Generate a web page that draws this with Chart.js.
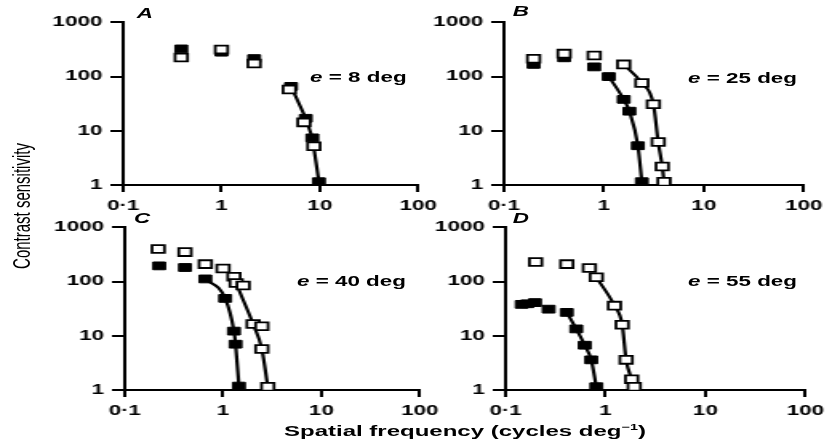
<!DOCTYPE html>
<html>
<head>
<meta charset="utf-8">
<script src="https://cdn.jsdelivr.net/npm/chart.js@4"></script>
<style>
  html, body { margin: 0; background: #fff; }
  /* the reference is stretched sideways, so the whole page is drawn narrow and scaled */
  #page { position: absolute; left: 0; top: 0; width: 518px; height: 448px;
          transform: scaleX(1.6); transform-origin: 0 0;
          font-family: "Liberation Sans", Arial, sans-serif; color: #000; }
  .panel { position: absolute; }
  .txt { position: absolute; white-space: nowrap; font-weight: bold; }
</style>
</head>
<body>
<div id="page">
  <div class="panel" id="pA"><canvas id="cA"></canvas></div>
  <div class="panel" id="pB"><canvas id="cB"></canvas></div>
  <div class="panel" id="pC"><canvas id="cC"></canvas></div>
  <div class="panel" id="pD"><canvas id="cD"></canvas></div>

  <div class="txt" style="left:90.6px;top:13px;transform:translate(-50%,-50%);font-style:italic;font-size:14px">A</div>
  <div class="txt" style="left:325.6px;top:11px;transform:translate(-50%,-50%);font-style:italic;font-size:14px">B</div>
  <div class="txt" style="left:88.8px;top:218px;transform:translate(-50%,-50%);font-style:italic;font-size:14px">C</div>
  <div class="txt" style="left:325.6px;top:218px;transform:translate(-50%,-50%);font-style:italic;font-size:14px">D</div>

  <div class="txt" style="left:193.8px;top:77px;transform:translateY(-50%);font-size:14px"><i>e</i> = 8 deg</div>
  <div class="txt" style="left:430px;top:78px;transform:translateY(-50%);font-size:14px"><i>e</i> = 25 deg</div>
  <div class="txt" style="left:185.6px;top:281px;transform:translateY(-50%);font-size:14px"><i>e</i> = 40 deg</div>
  <div class="txt" style="left:430px;top:281px;transform:translateY(-50%);font-size:14px"><i>e</i> = 55 deg</div>

  <div class="txt" style="left:290.6px;top:430px;transform:translate(-50%,-50%);font-size:15px">Spatial frequency (cycles deg<sup style="font-size:9px">−1</sup>)</div>
  <div class="txt" style="left:13.1px;top:206px;transform:translate(-50%,-50%) rotate(-90deg);font-size:15px;font-weight:normal">Contrast sensitivity</div>
</div>

<script>
// axis ticks
const xTicks = [0.1, 1, 10, 100];
const xTickLabels = ['0·1', '1', '10', '100'];
const yTicks = [1, 10, 100, 1000];
const yTickLabels = ['1', '10', '100', '1000'];

// panel A, e = 8 deg
const aFilledX = [0.39, 1.0, 2.15, 5.1, 7.2, 8.4, 9.8];
const aFilledY = [324, 282, 215, 66, 17, 7.4, 1.15];
const aOpenX = [0.39, 1.0, 2.15, 4.9, 6.9, 8.7];
const aOpenY = [225, 315, 175, 58, 14.3, 5.2];

// panel B, e = 25 deg
const bFilledX = [0.198, 0.40, 0.80, 1.12, 1.58, 1.80, 2.19, 2.40];
const bFilledY = [168, 222, 151, 100, 38, 23, 5.3, 1.15];
const bOpenX = [0.198, 0.40, 0.80, 1.58, 2.4, 3.13, 3.5, 3.84, 4.0];
const bOpenY = [213, 265, 245, 168, 76, 31, 6.2, 2.2, 1.15];

// panel C, e = 40 deg
const cFilledX = [0.224, 0.41, 0.66, 1.05, 1.29, 1.34, 1.45];
const cFilledY = [195, 182, 112, 49, 12.2, 7.0, 1.18];
const cOpenX = [0.219, 0.41, 0.66, 1.0, 1.29, 1.36, 1.6, 2.02, 2.48, 2.48, 2.85];
const cOpenY = [400, 350, 210, 175, 123, 94, 85, 16.5, 15, 5.7, 1.15];

// panel D, e = 55 deg
const dFilledX = [0.145, 0.165, 0.197, 0.27, 0.41, 0.51, 0.62, 0.72, 0.81];
const dFilledY = [38, 39, 41, 31, 27, 13.4, 6.7, 3.6, 1.15];
const dOpenX = [0.20, 0.41, 0.69, 0.81, 1.23, 1.47, 1.61, 1.83, 1.94];
const dOpenY = [230, 210, 178, 120, 36, 16, 3.6, 1.58, 1.15];

// which points the fitted curves run through
const aFilledLine = [3, 4, 5, 6];
const bFilledLine = [3, 4, 5, 6, 7];
const bOpenLine = [3, 4, 5, 6, 7, 8];
const cFilledLine = [2, 3, 4, 5, 6];
const cOpenLine = [4, 5, 7, 9, 10];
const dFilledLine = [4, 5, 6, 7, 8];
const dOpenLine = [3, 4, 5, 6, 7, 8];

const Y_AXIS_W = 50, X_AXIS_H = 32, PAD_TOP = 10, PAD_RIGHT = 16;
const tickFont = { family: 'Liberation Sans', size: 14, weight: 'bold' };

function pts(xs, ys, idx) {
  const list = idx || xs.map((_, i) => i);
  return list.map(i => ({ x: xs[i], y: ys[i] }));
}

function makePanel(id, box, filledX, filledY, openX, openY, lines) {
  const wrap = document.getElementById('p' + id);
  wrap.style.left = (box.left - Y_AXIS_W) + 'px';
  wrap.style.top = (box.top - PAD_TOP) + 'px';
  wrap.style.width = (box.w + Y_AXIS_W + PAD_RIGHT) + 'px';
  wrap.style.height = (box.h + PAD_TOP + X_AXIS_H) + 'px';

  const datasets = [
    { data: pts(openX, openY), showLine: false, pointStyle: 'rect', pointRadius: 5.5,
      pointBackgroundColor: '#fff', pointBorderColor: '#000', pointBorderWidth: 1.8 },
    { data: pts(filledX, filledY), showLine: false, pointStyle: 'rect', pointRadius: 5.5,
      pointBackgroundColor: '#000', pointBorderColor: '#000', pointBorderWidth: 1 }
  ];
  lines.forEach(l => {
    datasets.push({ data: pts(l.xs, l.ys, l.idx), showLine: true, pointRadius: 0,
      borderColor: '#000', borderWidth: 2.2, cubicInterpolationMode: l.smooth ? 'monotone' : 'default',
      tension: 0 });
  });

  new Chart(document.getElementById('c' + id), {
    type: 'scatter',
    data: { datasets },
    options: {
      responsive: true,
      maintainAspectRatio: false,
      animation: false,
      layout: { padding: { top: PAD_TOP, right: PAD_RIGHT, left: 0, bottom: 0 } },
      plugins: { legend: { display: false }, tooltip: { enabled: false } },
      scales: {
        x: {
          type: 'logarithmic', min: 0.1, max: 100,
          afterBuildTicks: s => { s.ticks = xTicks.map(v => ({ value: v })); },
          afterFit: s => { s.height = X_AXIS_H; },
          ticks: { color: '#000', font: tickFont, padding: 6, maxRotation: 0, autoSkip: false,
                   callback: v => xTickLabels[xTicks.indexOf(v)] },
          grid: { drawOnChartArea: false, drawTicks: true, tickLength: 7, color: '#000', lineWidth: 2 },
          border: { display: true, color: '#000', width: 2 }
        },
        y: {
          type: 'logarithmic', min: 1, max: 1000,
          afterBuildTicks: s => { s.ticks = yTicks.map(v => ({ value: v })); },
          afterFit: s => { s.width = Y_AXIS_W; },
          ticks: { color: '#000', font: tickFont, padding: 5, autoSkip: false,
                   callback: v => yTickLabels[yTicks.indexOf(v)] },
          grid: { drawOnChartArea: false, drawTicks: true, tickLength: 8, color: '#000', lineWidth: 2 },
          border: { display: true, color: '#000', width: 2 }
        }
      }
    }
  });
}

makePanel('A', { left: 76.9, top: 19, w: 186, h: 166 }, aFilledX, aFilledY, aOpenX, aOpenY,
  [{ xs: aFilledX, ys: aFilledY, idx: aFilledLine, smooth: false }]);
makePanel('B', { left: 315, top: 19, w: 189, h: 166 }, bFilledX, bFilledY, bOpenX, bOpenY,
  [{ xs: bFilledX, ys: bFilledY, idx: bFilledLine, smooth: true },
   { xs: bOpenX, ys: bOpenY, idx: bOpenLine, smooth: true }]);
makePanel('C', { left: 77.5, top: 224, w: 186, h: 166 }, cFilledX, cFilledY, cOpenX, cOpenY,
  [{ xs: cFilledX, ys: cFilledY, idx: cFilledLine, smooth: true },
   { xs: cOpenX, ys: cOpenY, idx: cOpenLine, smooth: true }]);
makePanel('D', { left: 316.25, top: 224, w: 189, h: 166 }, dFilledX, dFilledY, dOpenX, dOpenY,
  [{ xs: dFilledX, ys: dFilledY, idx: dFilledLine, smooth: true },
   { xs: dOpenX, ys: dOpenY, idx: dOpenLine, smooth: true }]);
</script>
</body>
</html>
